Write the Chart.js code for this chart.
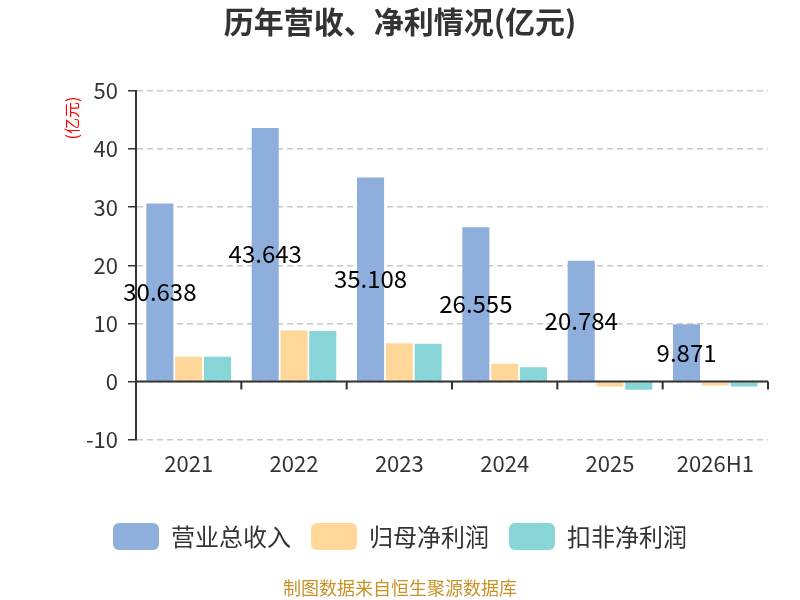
<!DOCTYPE html>
<html>
<head>
<meta charset="utf-8">
<script src="https://cdn.jsdelivr.net/npm/chart.js@4"></script>
<style>
  body { margin: 0; background: #fff; }
  #wrap { width: 800px; height: 600px; }
</style>
</head>
<body>
<div id="wrap"><canvas id="grafico"></canvas></div>
<script>
// dados do gráfico
const anos = ["2021", "2022", "2023", "2024", "2025", "2026H1"];
const receita = [30.638, 43.643, 35.108, 26.555, 20.784, 9.871];
const lucroLiquido = [4.24, 8.76, 6.6, 3.04, -0.86, -0.69];
const lucroSemExtra = [4.24, 8.71, 6.48, 2.47, -1.43, -0.86];
const nomesSeries = ["营业总收入", "归母净利润", "扣非净利润"];
const fonte = "'Noto Sans CJK SC', 'Noto Sans', sans-serif";

// rótulos no meio das barras de receita
const rotulos = {
  id: "rotulos",
  afterDatasetsDraw(chart) {
    const ctx = chart.ctx;
    const meta = chart.getDatasetMeta(0);
    ctx.save();
    ctx.font = "24px " + fonte;
    ctx.fillStyle = "#000";
    ctx.textAlign = "center";
    ctx.textBaseline = "middle";
    meta.data.forEach((bar, i) => {
      ctx.fillText(receita[i].toString(), bar.x, (bar.y + bar.base) / 2);
    });
    ctx.restore();
  }
};

// linha do zero, marcas do eixo x, título do eixo y e fonte
const extras = {
  id: "extras",
  afterDraw(chart) {
    const ctx = chart.ctx;
    const x = chart.scales.x;
    const y = chart.scales.y;
    const y0 = y.getPixelForValue(0);
    ctx.save();
    ctx.strokeStyle = "#333";
    ctx.lineWidth = 2;
    ctx.beginPath();
    ctx.moveTo(x.left, y0);
    ctx.lineTo(x.right, y0);
    const passo = (x.right - x.left) / anos.length;
    for (let i = 0; i <= anos.length; i++) {
      const px = x.left + passo * i;
      ctx.moveTo(px, y0);
      ctx.lineTo(px, y0 + 8);
    }
    ctx.stroke();

    ctx.translate(72, y.top + 27);
    ctx.rotate(-Math.PI / 2);
    ctx.font = "16px " + fonte;
    ctx.fillStyle = "#ff0000";
    ctx.textAlign = "center";
    ctx.textBaseline = "middle";
    ctx.fillText("(亿元)", 0, 0);
    ctx.restore();

    ctx.save();
    ctx.font = "18px " + fonte;
    ctx.fillStyle = "#c8922a";
    ctx.textAlign = "center";
    ctx.textBaseline = "middle";
    ctx.fillText("制图数据来自恒生聚源数据库", 400, 588);
    ctx.restore();
  }
};

new Chart(document.getElementById("grafico").getContext("2d"), {
  type: "bar",
  data: {
    labels: anos,
    datasets: [
      { label: nomesSeries[0], data: receita, backgroundColor: "#8eaedb" },
      { label: nomesSeries[1], data: lucroLiquido, backgroundColor: "#ffd899" },
      { label: nomesSeries[2], data: lucroSemExtra, backgroundColor: "#88d5d8" }
    ]
  },
  options: {
    responsive: true,
    maintainAspectRatio: false,
    animation: false,
    categoryPercentage: 0.82,
    barPercentage: 0.94,
    layout: { padding: { left: 32, right: 32, bottom: 40, top: 0 } },
    plugins: {
      title: {
        display: true,
        text: "历年营收、净利情况(亿元)",
        color: "#333",
        font: { family: fonte, size: 30, weight: "bold" },
        padding: { top: 4, bottom: 51 }
      },
      legend: {
        position: "bottom",
        labels: {
          boxWidth: 46,
          boxHeight: 27,
          useBorderRadius: true,
          borderRadius: 6,
          color: "#333",
          font: { family: fonte, size: 24 },
          padding: 20
        }
      },
      tooltip: { enabled: false }
    },
    scales: {
      x: {
        grid: { display: false },
        border: { display: false },
        ticks: { color: "#333", font: { family: fonte, size: 22 }, padding: 3 },
        afterFit(scale) { scale.height += 23; }
      },
      y: {
        min: -10,
        max: 50,
        ticks: { stepSize: 10, color: "#333", font: { family: fonte, size: 22 }, padding: 10 },
        border: { color: "#333", width: 2, dash: [6, 4] },
        grid: {
          color: "#c8c8c8",
          lineWidth: 1.5,
          tickColor: "#333",
          tickLength: 8,
          tickBorderDash: []
        },
        afterFit(scale) { scale.width = 104; }
      }
    }
  },
  plugins: [rotulos, extras]
});
</script>
</body>
</html>
